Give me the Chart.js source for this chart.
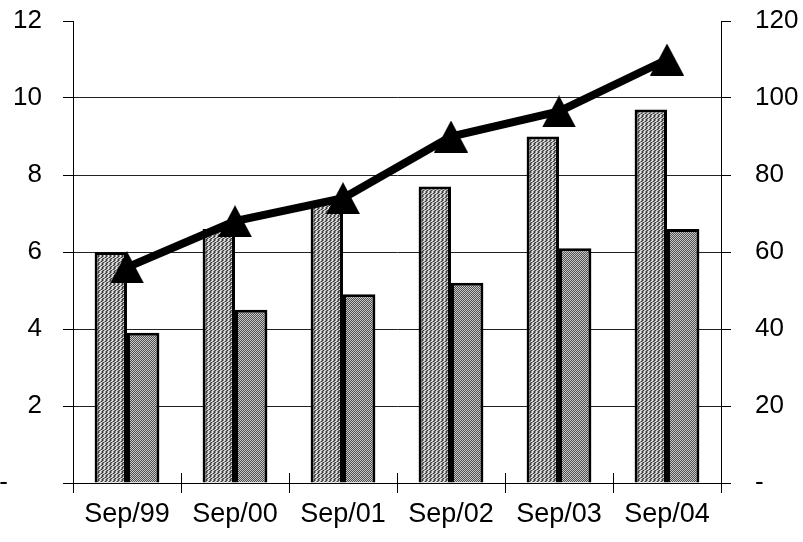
<!DOCTYPE html>
<html>
<head>
<meta charset="utf-8">
<script src="https://cdn.jsdelivr.net/npm/chart.js@4/dist/chart.umd.min.js"></script>
<style>
html,body{margin:0;padding:0;background:#fff;}
#wrap{width:803px;height:542px;position:relative;}
</style>
</head>
<body>
<div id="wrap"><canvas id="c" width="803" height="542"></canvas></div>
<script>
const categories = ['Sep/99', 'Sep/00', 'Sep/01', 'Sep/02', 'Sep/03', 'Sep/04'];
const seriesA = [6.0, 6.6, 7.3, 7.7, 9.0, 9.7];
const seriesB = [3.9, 4.5, 4.9, 5.2, 6.1, 6.6];
const seriesLine = [56, 68, 74, 90, 96.5, 110];
const leftTicks = [0, 2, 4, 6, 8, 10, 12];
const rightTicks = [0, 20, 40, 60, 80, 100, 120];

function makePatternA() {
  const c = document.createElement('canvas');
  c.width = 8; c.height = 8;
  const g = c.getContext('2d');
  const img = g.createImageData(8, 8);
  for (let y = 0; y < 8; y++) for (let x = 0; x < 8; x++) {
    const k = (x + y + ((y >> 1) & 1)) % 4;
    let v = 150;
    if (k === 0) v = 235; else if (k === 2) v = 55;
    const i = (y * 8 + x) * 4;
    img.data[i] = img.data[i + 1] = img.data[i + 2] = v; img.data[i + 3] = 255;
  }
  g.putImageData(img, 0, 0);
  return g.createPattern(c, 'repeat');
}
function makePatternB() {
  const c = document.createElement('canvas');
  c.width = 2; c.height = 2;
  const g = c.getContext('2d');
  const img = g.createImageData(2, 2);
  const vals = [200, 80, 80, 200];
  for (let p = 0; p < 4; p++) {
    img.data[p * 4] = img.data[p * 4 + 1] = img.data[p * 4 + 2] = vals[p];
    img.data[p * 4 + 3] = 255;
  }
  g.putImageData(img, 0, 0);
  return g.createPattern(c, 'repeat');
}
function makeTriangle() {
  const c = document.createElement('canvas');
  c.width = 34; c.height = 32;
  const g = c.getContext('2d');
  g.fillStyle = '#000';
  g.beginPath();
  g.moveTo(17, 0); g.lineTo(34, 32); g.lineTo(0, 32); g.closePath();
  g.fill();
  return c;
}

const FONT_Y = {family: "'Liberation Sans', Arial, sans-serif", size: 26};
const FONT_X = {family: "'Liberation Sans', Arial, sans-serif", size: 27};

const crossTicks = {
  id: 'crossTicks',
  afterDraw(chart) {
    const x = chart.scales.x, ctx = chart.ctx, b = chart.chartArea.bottom;
    ctx.save();
    ctx.strokeStyle = '#000'; ctx.lineWidth = 1;
    for (let i = 0; i <= categories.length; i++) {
      const px = Math.round(x.getPixelForValue(i - 0.5)) + 0.5;
      ctx.beginPath(); ctx.moveTo(px, b - 10); ctx.lineTo(px, b + 10); ctx.stroke();
    }
    ctx.restore();
  }
};

function fitVertical(w) {
  return s => { s.width = w; s.paddingTop = 0; s.paddingBottom = 0; };
}

new Chart(document.getElementById('c'), {
  data: {
    labels: categories,
    datasets: [
      {type: 'line', data: seriesLine, yAxisID: 'y2', order: 0,
       borderColor: '#000', borderWidth: 8, tension: 0,
       pointStyle: makeTriangle(), pointRadius: 17, pointBackgroundColor: '#000'},
      {type: 'bar', data: seriesA, yAxisID: 'y', order: 1,
       backgroundColor: makePatternA(), borderColor: '#000', borderWidth: 3,
       categoryPercentage: 0.6, barPercentage: 1.0},
      {type: 'bar', data: seriesB, yAxisID: 'y', order: 1,
       backgroundColor: makePatternB(), borderColor: '#000', borderWidth: 3,
       categoryPercentage: 0.6, barPercentage: 1.0}
    ]
  },
  options: {
    responsive: false,
    animation: false,
    layout: {autoPadding: false, padding: {top: 21, left: 0, right: 0, bottom: 0}},
    plugins: {legend: {display: false}, tooltip: {enabled: false}},
    scales: {
      x: {
        grid: {offset: true, drawOnChartArea: false, tickLength: 10, color: '#000'},
        border: {color: '#000'},
        ticks: {color: '#000', font: FONT_X, padding: 5, maxRotation: 0},
        afterFit: s => { s.height = 59; s.paddingLeft = 0; s.paddingRight = 0; }
      },
      y: {
        position: 'left', min: 0, max: 12,
        afterBuildTicks: s => { s.ticks = leftTicks.map(v => ({value: v})); },
        ticks: {color: '#000', font: FONT_Y, padding: 21,
                callback: v => v === 0 ? '-    \u2009' : String(v)},
        grid: {color: c => (c.tick && c.tick.value === 12) ? 'rgba(0,0,0,0)' : '#222',
               tickColor: '#000', tickLength: 10},
        border: {color: '#000'},
        afterFit: fitVertical(73)
      },
      y2: {
        position: 'right', min: 0, max: 120,
        afterBuildTicks: s => { s.ticks = rightTicks.map(v => ({value: v})); },
        ticks: {color: '#000', font: FONT_Y, padding: 24,
                callback: v => v === 0 ? '-' : String(v)},
        grid: {drawOnChartArea: false, tickColor: '#000', tickLength: 10},
        border: {color: '#000'},
        afterFit: fitVertical(82)
      }
    }
  },
  plugins: [crossTicks]
});
</script>
</body>
</html>
